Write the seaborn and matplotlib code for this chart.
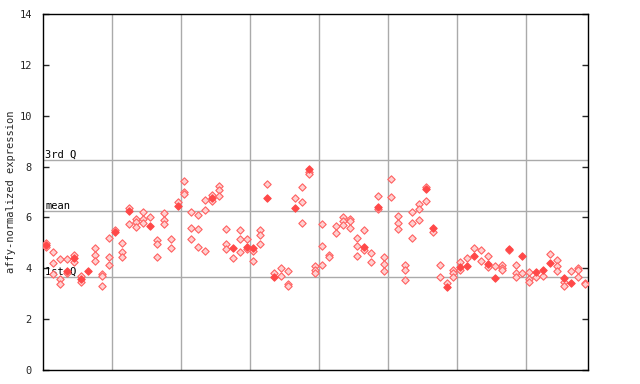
import pandas as pd
import seaborn as sns
import matplotlib.pyplot as plt

# valores, una lista por muestra (columna)
hollow_vals = [
    [4.98, 4.84], [4.64, 4.19, 3.78], [4.36, 3.58, 3.37], [4.36, 3.83], [4.52, 4.26],
    [3.71, 3.46], [], [4.80, 4.52, 4.29], [3.77, 3.71, 3.30], [5.19, 4.44, 4.13],
    [5.51], [4.98, 4.64, 4.46], [6.36, 5.73], [5.93, 5.83, 5.61], [6.20, 5.93, 5.77],
    [6.00], [5.10, 4.94, 4.43], [6.16, 5.90, 5.73], [5.14, 4.78], [6.62],
    [7.42, 7.00, 6.92], [6.20, 5.57, 5.14], [6.10, 5.53, 4.82], [6.67, 6.28, 4.67], [6.88, 6.63],
    [7.25, 7.08, 6.83], [5.53, 4.94, 4.75], [4.39], [5.49, 5.14, 4.63], [5.14, 4.75],
    [4.68, 4.29], [5.49, 5.30, 4.94], [7.30], [3.80], [4.00, 3.68],
    [3.88, 3.37, 3.29], [6.75], [7.18, 6.59, 5.77], [7.79, 7.69], [4.08, 3.92, 3.80],
    [5.73, 4.86, 4.12], [4.53, 4.46], [5.65, 5.38], [6.00, 5.85, 5.69], [5.93, 5.85, 5.57],
    [5.18, 4.86, 4.47], [5.49, 4.71], [4.59, 4.23], [6.83, 6.32], [4.43, 4.16, 3.88],
    [7.50, 6.79], [6.04, 5.80, 5.53], [4.12, 3.92, 3.53], [6.20, 5.77, 5.18], [6.51, 6.32, 5.89],
    [7.18, 6.63], [5.41], [4.12, 3.65], [3.41], [3.93, 3.80, 3.67],
    [4.25, 3.93], [4.39], [4.78], [4.72, 4.27], [4.47, 4.06],
    [4.08], [4.12, 4.00, 3.92], [4.70], [4.12, 3.80, 3.65], [3.80],
    [3.84, 3.56, 3.48], [3.65], [3.68], [4.55], [4.33, 4.08, 3.88],
    [3.45, 3.29], [3.88], [4.00, 3.92, 3.65], [3.41, 3.37],
]
filled_vals = [
    [4.90], [], [], [3.90], [4.39], [3.58], [3.90], [], [], [],
    [5.41], [], [6.26], [], [], [5.66], [], [], [], [6.45],
    [], [], [], [], [6.78], [], [], [4.78], [], [4.82],
    [4.78], [], [6.78], [3.67], [], [], [6.37], [], [7.89], [],
    [], [], [], [], [], [], [4.82], [], [6.40], [],
    [], [], [], [], [], [7.12], [5.60], [], [3.25], [],
    [4.04], [4.09], [4.49], [], [4.16], [3.63], [], [4.75], [], [4.49],
    [], [3.84], [3.92], [4.19], [], [3.60], [3.41], [], [],
]
stat_lines = {"3rd Q": 8.25, "mean": 6.25, "1st Q": 3.66}

rows = []
for i, (h, f) in enumerate(zip(hollow_vals, filled_vals)):
    rows += [(i, v, "hollow") for v in h]
    rows += [(i, v, "filled") for v in f]
df = pd.DataFrame(rows, columns=["muestra", "expr", "tipo"])

sns.set_style("white")
plt.rcParams["font.family"] = ["DejaVu Sans Mono"]

fig = plt.figure(figsize=(6.4, 3.84), dpi=100)
ax = fig.add_axes([43 / 640, 14 / 384, 545 / 640, 356 / 384])

n = len(hollow_vals)
for x in range(9, n, 10):
    ax.axvline(x + 0.5, color="#aaaaaa", lw=1, zorder=1)
for lab, y in stat_lines.items():
    ax.axhline(y, color="#aaaaaa", lw=1, zorder=1)
    ax.text(0.004, y, lab, transform=ax.get_yaxis_transform(), fontsize=7.5,
            va="bottom", ha="left", color="black", zorder=2)

sns.scatterplot(data=df[df.tipo == "hollow"], x="muestra", y="expr", marker="D", s=14,
                facecolor="#ffd0d0", edgecolor="#ff6060", linewidth=0.8, ax=ax, zorder=3)
sns.scatterplot(data=df[df.tipo == "filled"], x="muestra", y="expr", marker="D", s=14,
                color="#ff4848", edgecolor="#ff4848", linewidth=0.8, ax=ax, zorder=4)

ax.set_xlim(-0.5, n - 0.5)
ax.set_ylim(0, 14)
ax.set_yticks(range(0, 15, 2))
ax.set_xticks([])
ax.tick_params(axis="y", direction="in", length=4, width=1, pad=8, labelsize=7.5,
               right=True, left=True)
for s in ax.spines.values():
    s.set_color("black")
    s.set_linewidth(1)
ax.set_xlabel("")
ax.set_ylabel("affy-normalized expression", fontsize=7.5)
ax.yaxis.set_label_coords(-0.05, 0.5)

plt.savefig("out.png", dpi=100)
